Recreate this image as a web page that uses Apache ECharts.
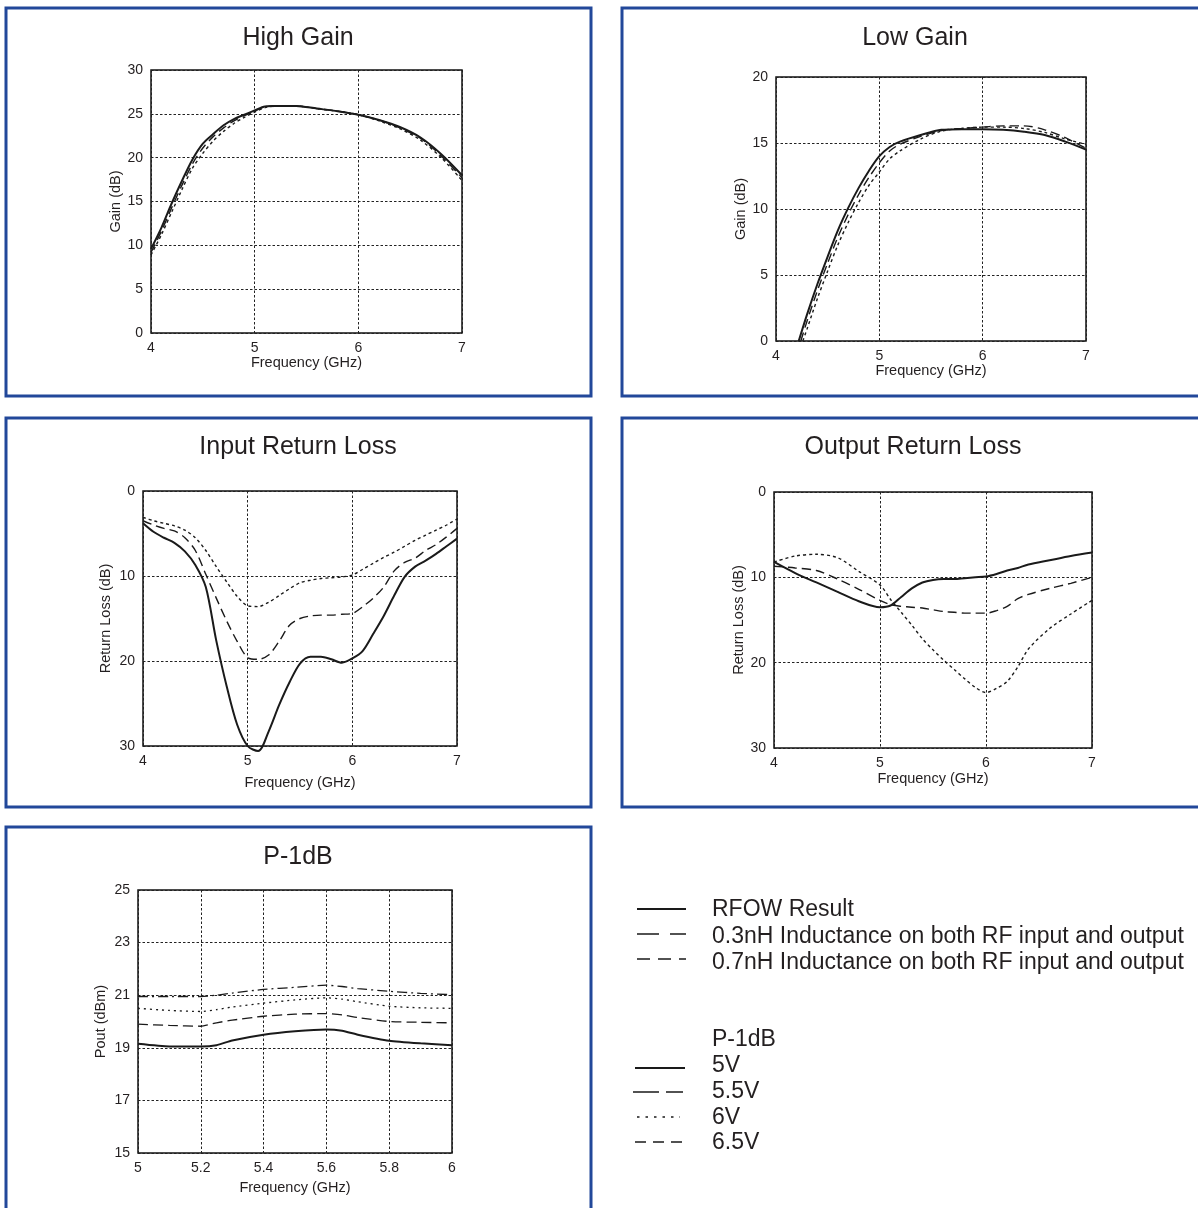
<!DOCTYPE html>
<html>
<head>
<meta charset="utf-8">
<script src="https://cdn.jsdelivr.net/npm/echarts@6/dist/echarts.min.js"></script>
<style>
html,body{margin:0;padding:0;background:#fff;}
#c{width:1198px;height:1208px;}
</style>
</head>
<body>
<div id="c"></div>
<script>
// ---------- DATA ----------
const seriesNames = ['RFOW Result', '0.3nH Inductance on both RF input and output', '0.7nH Inductance on both RF input and output'];
const p1dbNames = ['5V', '5.5V', '6V', '6.5V'];

// High Gain
const hgFreq = [4.0,4.1,4.2,4.3,4.4,4.5,4.6,4.7,4.8,4.9,5.0,5.1,5.2,5.4,5.6,5.8,6.0,6.2,6.4,6.6,6.8,7.0];
const hgRfow = [9.6,12.0,14.8,17.4,19.8,21.6,22.7,23.7,24.4,24.9,25.4,25.85,25.9,25.9,25.6,25.3,24.9,24.3,23.5,22.3,20.4,18.0];
const hg03 =   [9.2,11.6,14.3,16.9,19.3,21.1,22.4,23.4,24.2,24.8,25.3,25.8,25.9,25.9,25.6,25.3,24.9,24.3,23.4,22.2,20.2,17.7];
const hg07 =   [8.9,11.2,13.8,16.4,18.8,20.5,21.9,23.0,23.9,24.6,25.2,25.7,25.9,25.9,25.6,25.3,24.9,24.2,23.3,22.0,20.0,17.4];

// Low Gain
const lgFreqRfow = [4.22,4.3,4.4,4.5,4.6,4.7,4.8,4.9,5.0,5.1,5.2,5.4,5.6,5.8,6.0,6.2,6.4,6.6,6.8,7.0];
const lgFreq03 =   [4.24,4.3,4.4,4.5,4.6,4.7,4.8,4.9,5.0,5.1,5.2,5.4,5.6,5.8,6.0,6.2,6.4,6.6,6.8,7.0];
const lgFreq07 =   [4.26,4.3,4.4,4.5,4.6,4.7,4.8,4.9,5.0,5.1,5.2,5.4,5.6,5.8,6.0,6.2,6.4,6.6,6.8,7.0];
const lgRfow = [0,2.0,4.3,6.4,8.4,10.1,11.6,12.9,14.0,14.7,15.1,15.6,16.0,16.05,16.05,16.0,15.85,15.6,15.1,14.5];
const lg03 =   [0,1.5,3.8,5.9,7.9,9.6,11.1,12.4,13.5,14.4,14.9,15.5,15.95,16.1,16.2,16.3,16.3,16.0,15.4,14.6];
const lg07 =   [0,0.9,3.2,5.3,7.3,9.0,10.5,11.8,12.8,13.8,14.4,15.3,15.9,16.1,16.2,16.2,16.1,15.8,15.3,14.9];

// Input Return Loss
const irlFreq = [4.0,4.1,4.2,4.3,4.4,4.5,4.6,4.7,4.8,4.9,5.0,5.1,5.2,5.3,5.4,5.5,5.6,5.7,5.8,5.9,6.0,6.1,6.2,6.3,6.4,6.5,6.6,6.7,6.8,6.9,7.0];
const irlRfow = [3.8,4.8,5.5,6.1,7.1,8.7,11.3,17.6,23.0,27.5,30.0,30.6,28.3,25.2,22.5,20.3,19.5,19.5,19.8,20.2,19.7,18.8,16.8,14.7,12.3,10.1,8.9,8.2,7.4,6.5,5.6];
const irl03 =   [3.5,4.0,4.4,4.7,5.5,7.0,9.8,12.6,15.3,17.7,19.6,19.8,19.3,17.7,15.8,15.0,14.7,14.6,14.6,14.5,14.4,13.6,12.6,11.3,9.4,8.4,7.9,7.0,6.3,5.4,4.4];
const irl07 =   [3.1,3.5,3.8,4.1,4.6,5.5,7.0,8.9,10.7,12.4,13.5,13.6,13.1,12.3,11.5,10.8,10.5,10.3,10.2,10.1,9.9,9.2,8.5,7.8,7.2,6.5,5.8,5.2,4.6,4.0,3.3];

// Output Return Loss
const orlFreq = [4.0,4.2,4.4,4.6,4.8,5.0,5.1,5.2,5.3,5.4,5.5,5.6,5.7,5.8,5.9,6.0,6.1,6.2,6.3,6.4,6.6,6.8,7.0];
const orlRfow = [8.2,9.5,10.6,11.7,12.8,13.5,13.3,12.3,11.3,10.6,10.3,10.2,10.2,10.1,10.0,9.9,9.6,9.2,8.9,8.5,8.0,7.5,7.1];
const orl03 =   [8.7,8.9,9.2,10.2,11.4,12.7,13.2,13.4,13.5,13.6,13.8,14.0,14.1,14.2,14.2,14.2,13.9,13.4,12.5,12.0,11.3,10.7,10.0];
const orl07 =   [8.2,7.5,7.3,7.7,9.3,10.9,12.6,14.1,15.6,17.2,18.5,19.7,20.8,21.9,22.9,23.5,23.0,22.2,20.5,18.4,16.0,14.3,12.7];

// P-1dB
const pFreq = [5.0,5.1,5.2,5.25,5.3,5.4,5.5,5.6,5.65,5.7,5.8,5.9,6.0];
const p5v =  [19.15,19.05,19.05,19.1,19.28,19.5,19.63,19.7,19.65,19.5,19.27,19.17,19.1];
const p55v = [19.9,19.85,19.82,19.95,20.05,20.2,20.28,20.3,20.25,20.15,20.0,19.97,19.95];
const p6v =  [20.5,20.42,20.38,20.45,20.55,20.7,20.82,20.9,20.85,20.75,20.58,20.52,20.5];
const p65v = [20.95,20.95,20.95,21.0,21.08,21.22,21.3,21.38,21.33,21.25,21.15,21.07,21.02];

// ---------- BUILD ----------
const FONT = "'Liberation Sans', Arial, Helvetica, sans-serif";
const TXT = '#231f20';
const BLUE = '#22489a';
const pair = (xs, ys) => xs.map((x, i) => [x, ys[i]]);

const grids = [
  {left:151, top:70, width:311, height:263},
  {left:776, top:77, width:310, height:264},
  {left:143, top:491, width:314, height:255},
  {left:774, top:492, width:318, height:256},
  {left:138, top:890, width:314, height:263}
].map(g => Object.assign(g, {show:true, borderColor:'#111', borderWidth:1.5, backgroundColor:'transparent'}));

const splitLine = {show:true, lineStyle:{color:'#222', width:1, type:[2.5,2]}};
function xAx(gi, min, max, interval, gap) {
  return {type:'value', gridIndex:gi, min, max, interval,
    name:'Frequency (GHz)', nameLocation:'middle', nameGap:gap,
    nameTextStyle:{fontFamily:FONT, fontSize:14.5, color:TXT},
    axisLine:{show:false}, axisTick:{show:false},
    axisLabel:{fontFamily:FONT, fontSize:14, color:TXT, margin:8},
    splitLine};
}
function yAx(gi, min, max, interval, name, gap, inverse) {
  return {type:'value', gridIndex:gi, min, max, interval, inverse:!!inverse,
    name, nameLocation:'middle', nameGap:gap, nameRotate:90,
    nameTextStyle:{fontFamily:FONT, fontSize:14.5, color:TXT},
    axisLine:{show:false}, axisTick:{show:false},
    axisLabel:{fontFamily:FONT, fontSize:14, color:TXT, margin:8},
    splitLine};
}

const xAxis = [
  xAx(0,4,7,1,22), xAx(1,4,7,1,22), xAx(2,4,7,1,29), xAx(3,4,7,1,23), xAx(4,5,6,0.2,27)
];
const yAxis = [
  yAx(0,0,30,5,'Gain (dB)',23), yAx(1,0,20,5,'Gain (dB)',28),
  yAx(2,0,30,10,'Return Loss (dB)',30,true), yAx(3,0,30,10,'Return Loss (dB)',28,true),
  yAx(4,15,25,2,'Pout (dBm)',30)
];

const STY = [
  {width:2, type:'solid'},
  {width:1.4, type:[9,5]},
  {width:1.4, type:[3,3]}
];
function ln(gi, name, data, sty, smooth) {
  return {type:'line', name, xAxisIndex:gi, yAxisIndex:gi, data, showSymbol:false, symbol:'none',
    smooth: smooth, clip:false, lineStyle:{color:'#1a1a1a', width:sty.width, type:sty.type}, silent:true, animation:false};
}
const series = [
  ln(0, seriesNames[2], pair(hgFreq, hg07), STY[2], 0.3),
  ln(0, seriesNames[1], pair(hgFreq, hg03), STY[1], 0.3),
  ln(0, seriesNames[0], pair(hgFreq, hgRfow), STY[0], 0.3),
  ln(1, seriesNames[2], pair(lgFreq07, lg07), STY[2], 0.3),
  ln(1, seriesNames[1], pair(lgFreq03, lg03), STY[1], 0.3),
  ln(1, seriesNames[0], pair(lgFreqRfow, lgRfow), STY[0], 0.3),
  ln(2, seriesNames[2], pair(irlFreq, irl07), STY[2], 0.3),
  ln(2, seriesNames[1], pair(irlFreq, irl03), STY[1], 0.3),
  ln(2, seriesNames[0], pair(irlFreq, irlRfow), STY[0], 0.3),
  ln(3, seriesNames[2], pair(orlFreq, orl07), STY[2], 0.3),
  ln(3, seriesNames[1], pair(orlFreq, orl03), STY[1], 0.3),
  ln(3, seriesNames[0], pair(orlFreq, orlRfow), STY[0], 0.3),
  ln(4, p1dbNames[0], pair(pFreq, p5v), {width:2, type:'solid'}, 0.2),
  ln(4, p1dbNames[1], pair(pFreq, p55v), {width:1.3, type:[10,5]}, 0.2),
  ln(4, p1dbNames[2], pair(pFreq, p6v), {width:1.3, type:[2,4]}, 0.2),
  ln(4, p1dbNames[3], pair(pFreq, p65v), {width:1.3, type:[10,4,2,4]}, 0.2)
];

const graphic = [];
// panel frames
[[6,8,585,388],[622,8,600,388],[6,418,585,389],[622,418,600,389],[6,827,585,400]].forEach(r => {
  graphic.push({type:'rect', shape:{x:r[0], y:r[1], width:r[2], height:r[3]}, style:{fill:'none', stroke:BLUE, lineWidth:3}, silent:true});
});
// titles
[['High Gain',298,38],['Low Gain',915,38],['Input Return Loss',298,447],['Output Return Loss',913,447],['P-1dB',298,857]].forEach(t => {
  graphic.push({type:'text', x:t[1], y:t[2], style:{text:t[0], font:'25px ' + FONT, fill:TXT, textAlign:'center', textVerticalAlign:'middle'}, silent:true});
});
// legend
const legendItems = [
  {name:seriesNames[0], ly:909, ty:910, x1:637, x2:686, dash:null, w:1.8},
  {name:seriesNames[1], ly:934, ty:937, x1:637, x2:686, dash:[22,11], w:1.5},
  {name:seriesNames[2], ly:959, ty:963, x1:637, x2:686, dash:[13,8], w:1.5},
  {name:'P-1dB', ly:null, ty:1040},
  {name:p1dbNames[0], ly:1068, ty:1066, x1:635, x2:685, dash:null, w:1.8},
  {name:p1dbNames[1], ly:1092, ty:1092, x1:633, x2:683, dash:[26,7], w:1.5},
  {name:p1dbNames[2], ly:1117, ty:1118, x1:637, x2:680, dash:[2.5,6], w:1.3},
  {name:p1dbNames[3], ly:1142, ty:1143, x1:635, x2:682, dash:[11,7], w:1.5}
];
legendItems.forEach(it => {
  if (it.ly !== null) {
    graphic.push({type:'line', shape:{x1:it.x1, y1:it.ly, x2:it.x2, y2:it.ly},
      style:{stroke:'#1a1a1a', lineWidth:it.w, lineDash:it.dash || null}, silent:true});
  }
  graphic.push({type:'text', x:712, y:it.ty, style:{text:it.name, font:'23px ' + FONT, fill:TXT, textAlign:'left', textVerticalAlign:'middle'}, silent:true});
});

const chart = echarts.init(document.getElementById('c'), null, {renderer:'canvas'});
chart.setOption({
  animation:false,
  backgroundColor:'#fff',
  grid: grids,
  xAxis, yAxis, series, graphic
});
</script>
</body>
</html>
